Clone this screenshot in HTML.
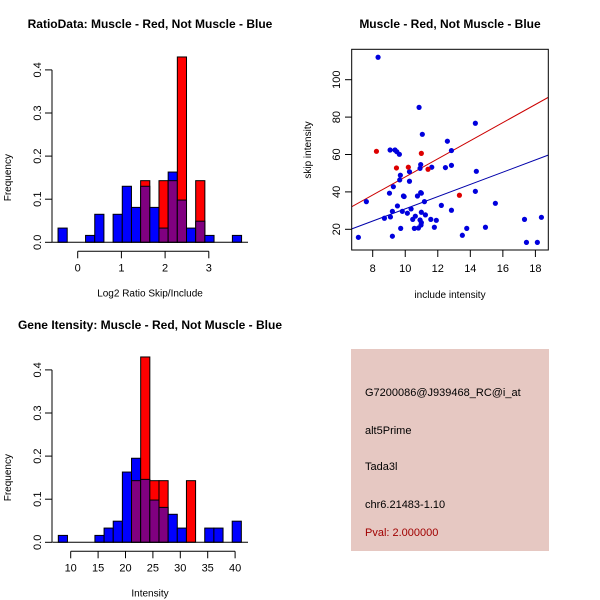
<!DOCTYPE html>
<html><head><meta charset="utf-8"><style>
body{margin:0;background:#fff}
svg{display:block;font-family:"Liberation Sans",sans-serif}
</style></head><body>
<svg id="s" width="600" height="600" viewBox="0 0 600 600">
<rect width="600" height="600" fill="#fff"/>
<g id="info">
<rect x="351" y="349" width="198" height="202" fill="#e6c8c2"/>
<text x="365" y="396" font-size="11">G7200086@J939468_RC@i_at</text>
<text x="365" y="434" font-size="11">alt5Prime</text>
<text x="365" y="470" font-size="11">Tada3l</text>
<text x="365" y="508" font-size="11">chr6.21483-1.10</text>
<text x="365" y="536" font-size="11" fill="#a00000">Pval: 2.000000</text>
</g>
</svg>
<script>
// ---- histogram 1 data (RatioData) ----
const ratioBinStart = -0.45;
const ratioBinWidth = 0.21;
const ratioBlue = [0.033,0,0,0.016,0.065,0,0.065,0.13,0.081,0.13,0.081,0.033,0.163,0.098,0.033,0.049,0.016,0,0,0.016];
const ratioRed  = [0,0,0,0,0,0,0,0,0,0.143,0,0.143,0.143,0.43,0,0.143,0,0,0,0];
const ratioXTicks = [0,1,2,3];
const freqTicks = [0,0.1,0.2,0.3,0.4];
// ---- histogram 2 data (Intensity) ----
const intBinStart = 7.74;
const intBinWidth = 1.67;
const intBlue = [0.016,0,0,0,0.016,0.033,0.049,0.163,0.195,0.146,0.098,0.081,0.065,0.033,0,0,0.033,0.033,0,0.049];
const intRed  = [0,0,0,0,0,0,0,0,0.143,0.43,0.143,0.143,0,0,0.143,0,0,0,0,0];
const intXTicks = [10,15,20,25,30,35,40];
// ---- scatter data ----
const redX = [8.23,9.46,10.19,10.99,11.4,13.33];
const redY = [61.7,52.8,53.2,60.6,52.1,38.2];
const blueX = [7.12,7.61,8.33,8.72,9.03,9.07,9.09,9.21,9.21,9.27,9.37,9.48,9.52,9.64,9.66,9.70,9.72,9.82,9.89,9.93,10.13,10.26,10.26,10.36,10.46,10.56,10.62,10.75,10.81,10.85,10.91,10.91,10.95,10.95,10.99,10.99,10.97,10.99,11.05,11.18,11.24,11.57,11.63,11.79,11.91,12.22,12.47,12.59,12.84,12.84,12.84,13.51,13.78,14.31,14.31,14.37,14.93,15.54,17.33,17.45,18.12,18.37];
const blueY = [15.7,34.8,112,25.9,39.3,62.4,26.6,29.6,16.3,42.8,62.4,61.5,32.5,60.1,46.4,48.9,20.5,29.6,37.8,37.5,28.6,45.7,50.8,30.9,25.3,20.5,27,37.8,20.7,85.2,25,52.6,54.6,39.6,39.3,29.1,22.3,23.6,70.8,34.8,27.7,25.3,53.2,21.1,24.8,32.8,53,67.1,62.1,54.2,30.2,16.8,20.5,76.7,40.3,51,21.1,33.9,25.3,13,13,26.4];
const redLine = [6.71,32.1,18.8,90.6];
const blueLine = [6.71,20.2,18.8,59.7];
const scXTicks = [8,10,12,14,16,18];
const scYTicks = [20,40,60,80,100];

const NS='http://www.w3.org/2000/svg';
const svg=document.getElementById('s');
function mk(tag,attrs,parent){const e=document.createElementNS(NS,tag);for(const k in attrs)e.setAttribute(k,attrs[k]);(parent||svg).appendChild(e);return e;}
function txt(s,attrs,parent){const e=mk('text',attrs,parent);e.textContent=s;return e;}

function hist(cfg){
  const g=mk('g',{});
  
  
  const xs=v=>cfg.xpx0+(v-cfg.xv0)*cfg.xk;
  const ys=v=>cfg.y0-v*cfg.yk;
  const t=txt(cfg.title,{x:150,y:cfg.titleY,'font-size':12,'font-weight':'bold','text-anchor':'middle'},g);
  
  
  for(let i=0;i<cfg.blue.length;i++){
    const x0=xs(cfg.start+i*cfg.w), x1=xs(cfg.start+(i+1)*cfg.w);
    const b=cfg.blue[i], r=cfg.red[i];
    if(b<=0&&r<=0){continue;}
    const hi=Math.max(b,r), lo=Math.min(b,r);
    const top=mk('rect',{x:x0,y:ys(hi),width:x1-x0,height:ys(0)-ys(hi),fill:b>=r?'#0000ff':'#ff0000',stroke:'#000','stroke-width':1},g);
    
    
    if(lo>0){
      const p=mk('rect',{x:x0,y:ys(lo),width:x1-x0,height:ys(0)-ys(lo),fill:'#800080',stroke:'#000','stroke-width':1},g);
      
      
    }
  }
  mk('line',{x1:xs(cfg.start)-6,x2:248,y1:ys(0),y2:ys(0),stroke:'#000'},g);
  // y axis
  mk('line',{x1:52,x2:52,y1:ys(0),y2:ys(0.4),stroke:'#000'},g);
  freqTicks.forEach(v=>{
    mk('line',{x1:45,x2:52,y1:ys(v),y2:ys(v),stroke:'#000'},g);
    const l=txt(v.toFixed(1),{x:0,y:0,'font-size':11,'text-anchor':'middle',transform:`translate(41,${ys(v)}) rotate(-90)`},g);
    
    
  });
  const yl=txt('Frequency',{x:0,y:0,'font-size':10,'text-anchor':'middle',transform:`translate(11,${ys(0.15)}) rotate(-90)`},g);
  
  
  // x axis
  const tk=cfg.ticks, ay=ys(0)+9;
  mk('line',{x1:xs(tk[0]),x2:xs(tk[tk.length-1]),y1:ay,y2:ay,stroke:'#000'},g);
  tk.forEach(v=>{
    mk('line',{x1:xs(v),x2:xs(v),y1:ay,y2:ay+7,stroke:'#000'},g);
    const l=txt(String(v),{x:xs(v),y:ay+20,'font-size':11,'text-anchor':'middle'},g);
    
    
  });
  const xl=txt(cfg.xlab,{x:150,y:ys(0)+54,'font-size':10,'text-anchor':'middle'},g);
  
  
}
hist({name:'ratio-histogram',title:'RatioData: Muscle - Red, Not Muscle - Blue',titleY:28,xlab:'Log2 Ratio Skip/Include',
  start:ratioBinStart,w:ratioBinWidth,blue:ratioBlue,red:ratioRed,ticks:ratioXTicks,
  xpx0:77.7,xv0:0,xk:43.7,y0:242.3,yk:431});
hist({name:'intensity-histogram',title:'Gene Itensity: Muscle - Red, Not Muscle - Blue',titleY:329,xlab:'Intensity',
  start:intBinStart,w:intBinWidth,blue:intBlue,red:intRed,ticks:intXTicks,
  xpx0:70.7,xv0:10,xk:5.48,y0:542.3,yk:431});

// scatter
(function(){
  const g=mk('g',{});
  
  
  const xs=v=>372.7+(v-8)*16.27;
  const ys=v=>229.3-(v-20)*1.87;
  const t=txt('Muscle - Red, Not Muscle - Blue',{x:450,y:28,'font-size':12,'font-weight':'bold','text-anchor':'middle'},g);
  
  
  const cp=mk('clipPath',{id:'cp'},g);
  mk('rect',{x:352,y:49,width:196,height:201},cp);
  const lines=mk('g',{'clip-path':'url(#cp)'},g);
  const rl=mk('line',{x1:xs(redLine[0]),y1:ys(redLine[1]),x2:xs(redLine[2]),y2:ys(redLine[3]),stroke:'#cc0000','stroke-width':1},lines);
  
  
  const bl=mk('line',{x1:xs(blueLine[0]),y1:ys(blueLine[1]),x2:xs(blueLine[2]),y2:ys(blueLine[3]),stroke:'#0000aa','stroke-width':1},lines);
  
  
  blueX.forEach((x,i)=>{
    const c=mk('circle',{cx:xs(x),cy:ys(blueY[i]),r:2.6,fill:'#0000dd'},g);
    
    
  });
  redX.forEach((x,i)=>{
    const c=mk('circle',{cx:xs(x),cy:ys(redY[i]),r:2.6,fill:'#dd0000'},g);
    
    
  });
  const box=mk('rect',{x:351.7,y:49.3,width:196.6,height:200.7,fill:'none',stroke:'#000'},g);
  
  
  scXTicks.forEach(v=>{
    mk('line',{x1:xs(v),x2:xs(v),y1:250,y2:257,stroke:'#000'},g);
    const l=txt(String(v),{x:xs(v),y:272,'font-size':11,'text-anchor':'middle'},g);
    
    
  });
  scYTicks.forEach(v=>{
    mk('line',{x1:345,x2:351.7,y1:ys(v),y2:ys(v),stroke:'#000'},g);
    const l=txt(String(v),{x:0,y:0,'font-size':11,'text-anchor':'middle',transform:`translate(340,${ys(v)}) rotate(-90)`},g);
    
    
  });
  const xl=txt('include intensity',{x:450,y:298,'font-size':10,'text-anchor':'middle'},g);
  
  
  const yl=txt('skip intensity',{x:0,y:0,'font-size':10,'text-anchor':'middle',transform:'translate(311,150) rotate(-90)'},g);
  
  
})();
</script>
</body></html>
